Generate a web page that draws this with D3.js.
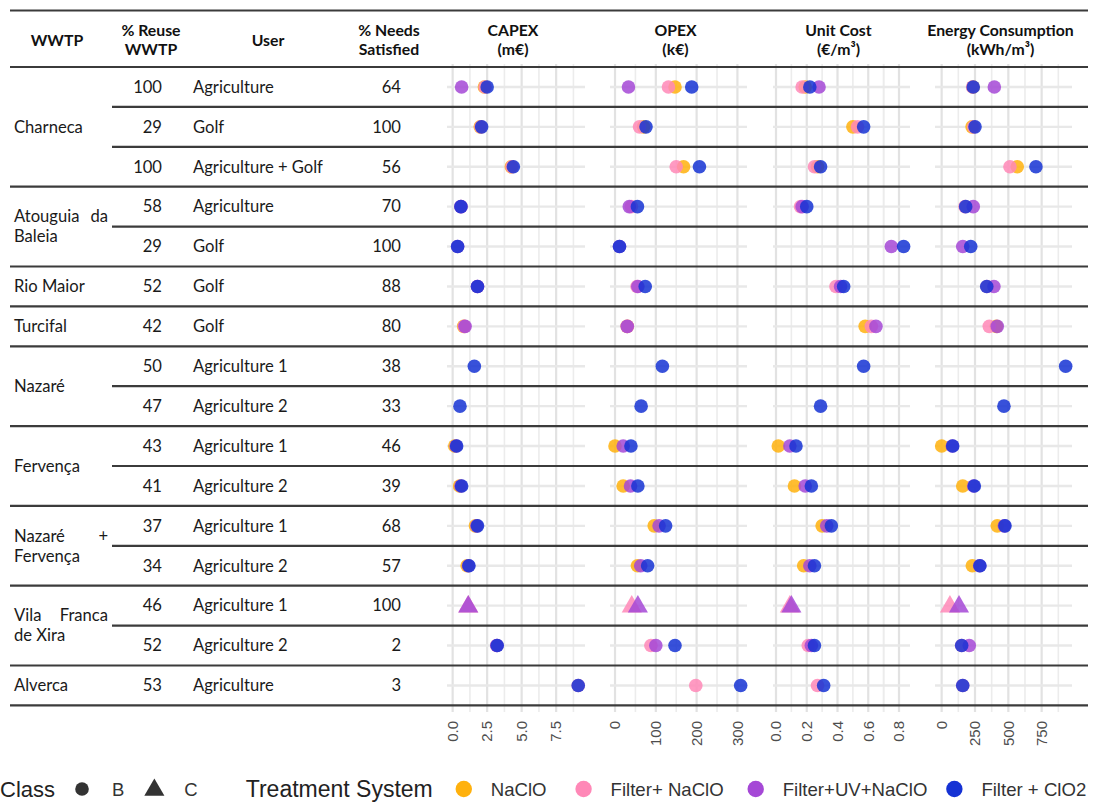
<!DOCTYPE html>
<html>
<head>
<meta charset="utf-8">
<script src="https://cdn.jsdelivr.net/npm/d3@7"></script>
<style>
body { margin: 0; background: #fff; }
svg { display: block; }
</style>
</head>
<body>
<div id="chart"></div>
<script>
// table columns
var groupNames = [["Charneca"], ["Atouguia da", "Baleia"], ["Rio Maior"], ["Turcifal"], ["Nazaré"],
                  ["Fervença"], ["Nazaré +", "Fervença"], ["Vila Franca", "de Xira"], ["Alverca"]];
var groupSizes = [3, 2, 1, 1, 2, 2, 2, 2, 1];
var reuse = [100, 29, 100, 58, 29, 52, 42, 50, 47, 43, 41, 37, 34, 46, 52, 53];
var users = ["Agriculture", "Golf", "Agriculture + Golf", "Agriculture", "Golf", "Golf", "Golf",
             "Agriculture 1", "Agriculture 2", "Agriculture 1", "Agriculture 2", "Agriculture 1",
             "Agriculture 2", "Agriculture 1", "Agriculture 2", "Agriculture"];
var needs = [64, 100, 56, 70, 100, 88, 80, 38, 33, 46, 39, 68, 57, 100, 2, 3];
var rowClass = ["B", "B", "B", "B", "B", "B", "B", "B", "B", "B", "B", "B", "B", "C", "B", "B"];

var metricNames = ["CAPEX", "OPEX", "Unit Cost", "Energy Consumption"];
var metricUnits = ["(m€)", "(k€)", "(€/m³)", "(kWh/m³)"];
var metricTicks = [[0, 2.5, 5, 7.5], [0, 100, 200, 300], [0, 0.2, 0.4, 0.6, 0.8], [0, 250, 500, 750]];
var tickFormats = [".1f", "d", ".1f", "d"];

var systems = ["NaClO", "Filter+ NaClO", "Filter+UV+NaClO", "Filter + ClO2"];
var systemColors = ["#ffb10d", "#ff88b7", "#a548d6", "#1532d4"];

// [CAPEX, OPEX, Unit Cost, Energy] per row, null = not evaluated
var naclo = [
  [2.3, 147, 0.19, 235], [2.0, 70, 0.50, 228], [4.25, 168, 0.27, 567], null, null, null,
  [0.8, 30, 0.58, 410], null, null, [0.15, 0, 0.015, 0], [0.5, 20, 0.12, 158],
  [1.65, 96, 0.30, 417], [1.05, 55, 0.18, 230], null, null, null];
var filterNaclo = [
  [2.35, 131, 0.17, 232], [2.05, 60, 0.53, 240], [4.3, 150, 0.25, 512], [0.6, 40, 0.16, 175], null,
  [1.8, 54, 0.39, 340], [0.85, 30, 0.62, 357], null, null, null, null, null, null,
  [1.13, 41, 0.09, 62], [3.2, 88, 0.21, 150], [9.1, 198, 0.27, 158]];
var filterUvNaclo = [
  [0.65, 33, 0.28, 395], null, null, [0.6, 35, 0.17, 237], [0.36, 11, 0.75, 158],
  [1.8, 56, 0.42, 392], [0.9, 30, 0.65, 417], null, null, [0.25, 20, 0.09, 80],
  [0.6, 38, 0.19, 240], [1.75, 108, 0.33, 470], [1.15, 63, 0.22, 285],
  [1.13, 56, 0.10, 130], [3.2, 100, 0.23, 207], null];
var filterClo2 = [
  [2.5, 188, 0.22, 237], [2.1, 76, 0.57, 250], [4.4, 207, 0.29, 707], [0.6, 55, 0.20, 180],
  [0.36, 11, 0.83, 218], [1.8, 74, 0.44, 338], null, [1.57, 116, 0.57, 930], [0.53, 64, 0.29, 467],
  [0.29, 39, 0.13, 83], [0.65, 56, 0.23, 245], [1.8, 124, 0.36, 475], [1.18, 80, 0.25, 287],
  null, [3.23, 147, 0.25, 150], [9.1, 308, 0.31, 158]];
var systemValues = [naclo, filterNaclo, filterUvNaclo, filterClo2];

var W = 1094, H = 802;
var tableFont = "Lato, 'Open Sans', sans-serif";
var legendFont = "'Liberation Sans', Arial, sans-serif";
var lineColor = "#3b3b3b";

var svg = d3.select("#chart").append("svg")
    .attr("width", W)
    .attr("height", H);

var nRows = reuse.length;
var rowY = d3.scaleLinear().domain([0, nRows]).range([67, 705.4]);
var rowMid = function(i) { return rowY(i + 0.5); };

// one x scale per metric panel (domains include ggplot style padding)
var panelRanges = [[447, 585], [610, 747], [773, 910], [935, 1072]];
var panelDomains = [[-0.41, 9.59], [-12.3, 323.5], [-0.0195, 0.8715], [-50, 977.5]];
var xScales = panelRanges.map(function(r, m) {
  return d3.scaleLinear().domain(panelDomains[m]).range(r);
});

// grid
var grid = svg.append("g");
xScales.forEach(function(x, m) {
  var ticks = metricTicks[m];
  var step = ticks[1] - ticks[0];
  var dom = x.domain();
  var minor = [];
  ticks.forEach(function(t) { minor.push(t - step / 2, t + step / 2); });
  minor = minor.filter(function(v, i, a) {
    return a.indexOf(v) === i && v > dom[0] && v < dom[1] && ticks.indexOf(v) < 0;
  });
  grid.selectAll(null).data(minor).enter().append("line")
      .attr("x1", function(d) { return x(d); }).attr("x2", function(d) { return x(d); })
      .attr("y1", 64).attr("y2", 712)
      .style("stroke", "#ececec").style("stroke-width", 1.6);
  grid.selectAll(null).data(ticks).enter().append("line")
      .attr("x1", function(d) { return x(d); }).attr("x2", function(d) { return x(d); })
      .attr("y1", 64).attr("y2", 712)
      .style("stroke", "#e2e2e2").style("stroke-width", 2.2);
  grid.selectAll(null).data(d3.range(nRows)).enter().append("line")
      .attr("x1", x.range()[0]).attr("x2", x.range()[1])
      .attr("y1", rowMid).attr("y2", rowMid)
      .style("stroke", "#e8e8e8").style("stroke-width", 2.4);

  // rotated tick labels
  svg.append("g").selectAll("text").data(ticks).enter().append("text")
      .attr("transform", function(d) { return "translate(" + x(d) + ",721) rotate(-90)"; })
      .attr("text-anchor", "end")
      .attr("dy", "0.35em")
      .style("font-family", legendFont)
      .style("font-size", "15px")
      .style("fill", "#4d4d4d")
      .text(function(d) { return d === 0 ? (tickFormats[m] === "d" ? "0" : "0.0") : d3.format(tickFormats[m])(d); });
});

// table rules
var groupEnds = d3.cumsum(groupSizes);
var rules = svg.append("g").style("stroke", lineColor).style("stroke-width", 2.2);
rules.append("line").attr("x1", 10).attr("x2", 1088).attr("y1", 10.5).attr("y2", 10.5);
rules.append("line").attr("x1", 10).attr("x2", 1088).attr("y1", rowY(0)).attr("y2", rowY(0));
rules.selectAll(null).data(d3.range(1, nRows + 1)).enter().append("line")
    .attr("x1", function(k) { return groupEnds.indexOf(k) >= 0 ? 10 : 112; })
    .attr("x2", 1088)
    .attr("y1", function(k) { return rowY(k); })
    .attr("y2", function(k) { return rowY(k); });

// header
var headers = [
  {x: 57, lines: ["WWTP"]}, {x: 151, lines: ["% Reuse", "WWTP"]}, {x: 268, lines: ["User"]},
  {x: 389, lines: ["% Needs", "Satisfied"]}
].concat(metricNames.map(function(n, m) {
  var r = panelRanges[m];
  return {x: (r[0] + r[1]) / 2 - 3, lines: [n, metricUnits[m]]};
}));
var head = svg.append("g")
    .style("font-family", tableFont).style("font-size", "15.8px")
    .style("font-weight", "bold").style("fill", "#111");
headers.forEach(function(h) {
  h.lines.forEach(function(t, j) {
    head.append("text")
        .attr("x", h.x)
        .attr("y", h.lines.length === 1 ? 40 : 30 + j * 19)
        .attr("dy", "0.35em")
        .attr("text-anchor", "middle")
        .text(t);
  });
});

// table body
var body = svg.append("g")
    .style("font-family", tableFont).style("font-size", "16.6px").style("fill", "#1a1a1a");
body.selectAll(".reuse").data(reuse).enter().append("text")
    .attr("x", 162).attr("y", function(d, i) { return rowMid(i); })
    .attr("dy", "0.35em").attr("text-anchor", "end").text(function(d) { return d; });
body.selectAll(".user").data(users).enter().append("text")
    .attr("x", 193).attr("y", function(d, i) { return rowMid(i); })
    .attr("dy", "0.35em").text(function(d) { return d; });
body.selectAll(".needs").data(needs).enter().append("text")
    .attr("x", 401).attr("y", function(d, i) { return rowMid(i); })
    .attr("dy", "0.35em").attr("text-anchor", "end").text(function(d) { return d; });

groupNames.forEach(function(lines, g) {
  var start = g === 0 ? 0 : groupEnds[g - 1];
  var cy = (rowY(start) + rowY(groupEnds[g])) / 2;
  lines.forEach(function(t, j) {
    var y = cy + (j - (lines.length - 1) / 2) * 20;
    var words = t.split(" ");
    if (lines.length > 1 && j === 0 && words.length > 1) {
      // justified first line
      body.append("text").attr("x", 14).attr("y", y).attr("dy", "0.35em").text(words[0]);
      body.append("text").attr("x", 108).attr("y", y).attr("dy", "0.35em")
          .attr("text-anchor", "end").text(words.slice(1).join(" "));
    } else {
      body.append("text").attr("x", 14).attr("y", y).attr("dy", "0.35em").text(t);
    }
  });
});

// points
var triangle = d3.symbol().type(d3.symbolTriangle).size(175);
var points = [];
systemValues.forEach(function(vals, s) {
  vals.forEach(function(v, i) {
    if (!v) return;
    v.forEach(function(val, m) {
      points.push({row: i, sys: s, metric: m, value: val, cls: rowClass[i]});
    });
  });
});
var marks = svg.append("g");
marks.selectAll(".dot").data(points.filter(function(p) { return p.cls === "B"; }))
  .enter().append("circle")
    .attr("cx", function(p) { return xScales[p.metric](p.value); })
    .attr("cy", function(p) { return rowMid(p.row); })
    .attr("r", 6.8)
    .style("fill", function(p) { return systemColors[p.sys]; })
    .style("fill-opacity", 0.85);
marks.selectAll(".tri").data(points.filter(function(p) { return p.cls === "C"; }))
  .enter().append("path")
    .attr("d", triangle)
    .attr("transform", function(p) {
      return "translate(" + xScales[p.metric](p.value) + "," + (rowMid(p.row) + 1) + ")";
    })
    .style("fill", function(p) { return systemColors[p.sys]; })
    .style("fill-opacity", 0.85);

// legend
var leg = svg.append("g").style("font-family", legendFont);
var ly = 789;
var cursor = 0;
function legText(t, size, color) {
  var el = leg.append("text").attr("x", cursor).attr("y", ly).attr("dy", "0.36em")
      .style("font-size", size).style("fill", color).text(t);
  cursor += el.node().getComputedTextLength();
}
legText("Class", "22px", "#222");
cursor += 27;
leg.append("circle").attr("cx", cursor).attr("cy", ly).attr("r", 6.8).style("fill", "#333");
cursor += 30;
legText("B", "18.5px", "#333");
cursor += 30;
leg.append("path").attr("d", triangle).attr("transform", "translate(" + cursor + "," + (ly + 1) + ")")
    .style("fill", "#333");
cursor += 30;
legText("C", "18.5px", "#333");
cursor += 48;
legText("Treatment System", "23px", "#222");
var keyGaps = [31, 37, 32, 27];
systems.forEach(function(s, i) {
  cursor += keyGaps[i];
  leg.append("circle").attr("cx", cursor).attr("cy", ly).attr("r", 8.2).style("fill", systemColors[i]);
  cursor += 27;
  legText(s, "18.6px", "#333");
});
</script>
</body>
</html>
